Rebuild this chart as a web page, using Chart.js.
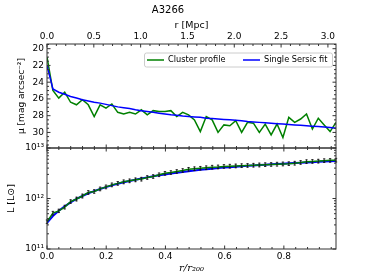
<!DOCTYPE html>
<html>
<head>
<meta charset="utf-8">
<script src="https://cdn.jsdelivr.net/npm/chart.js@4"></script>
<style>
  html, body { margin: 0; padding: 0; background: #fff; }
  canvas { display: block; }
</style>
</head>
<body>
<canvas id="chart" width="374" height="280" style="width:374px;height:280px"></canvas>
<script>
// radius in units of r200
const rNorm = [0.0000, 0.0199, 0.0398, 0.0598, 0.0797, 0.0996, 0.1195, 0.1394, 0.1594, 0.1793,
               0.1992, 0.2191, 0.2390, 0.2590, 0.2789, 0.2988, 0.3187, 0.3386, 0.3586, 0.3785,
               0.3984, 0.4183, 0.4382, 0.4582, 0.4781, 0.4980, 0.5179, 0.5378, 0.5578, 0.5777,
               0.5976, 0.6175, 0.6374, 0.6574, 0.6773, 0.6972, 0.7171, 0.7370, 0.7570, 0.7769,
               0.7968, 0.8167, 0.8366, 0.8566, 0.8765, 0.8964, 0.9163, 0.9362, 0.9562, 0.9761];

// surface brightness, mag arcsec^-2
const muProfile = [21.0, 25.0, 25.9, 25.2, 26.4, 26.7, 26.1, 26.7, 28.1, 26.7,
                   27.1, 26.6, 27.6, 27.8, 27.6, 27.8, 27.3, 27.9, 27.4, 27.5,
                   27.5, 27.4, 28.1, 27.6, 27.9, 28.5, 29.9, 28.1, 28.5, 30.0,
                   29.1, 29.2, 28.6, 30.0, 28.8, 28.9, 30.0, 29.0, 30.3, 29.0,
                   30.6, 28.2, 28.8, 28.4, 27.8, 29.6, 28.3, 29.1, 29.9, 28.8];
const muSersic = [22.0, 24.8, 25.2, 25.45, 25.7, 25.9, 26.1, 26.25, 26.4, 26.5,
                  26.65, 26.8, 26.95, 27.05, 27.15, 27.3, 27.4, 27.5, 27.6, 27.7,
                  27.8, 27.9, 27.95, 28.05, 28.1, 28.15, 28.2, 28.3, 28.35, 28.4,
                  28.45, 28.5, 28.55, 28.6, 28.7, 28.75, 28.8, 28.85, 28.9, 28.95,
                  29.0, 29.05, 29.1, 29.15, 29.2, 29.25, 29.3, 29.35, 29.4, 29.5];

// cumulative luminosity, 10^12 Lsun
const lumProfile = [0.347, 0.513, 0.569, 0.676, 0.871, 0.977, 1.122, 1.318, 1.380, 1.549,
                    1.698, 1.862, 1.995, 2.138, 2.239, 2.344, 2.42, 2.61, 2.73, 2.95,
                    3.16, 3.27, 3.43, 3.59, 3.80, 3.89, 3.98, 4.07, 4.17, 4.22,
                    4.32, 4.37, 4.42, 4.47, 4.52, 4.57, 4.62, 4.68, 4.73, 4.79,
                    4.84, 4.90, 5.01, 5.19, 5.37, 5.43, 5.50, 5.62, 5.69, 5.75];
const lumErr = [0.02, 0.03, 0.03, 0.04, 0.05, 0.06, 0.07, 0.08, 0.08, 0.09,
                0.10, 0.11, 0.12, 0.13, 0.13, 0.14, 0.14, 0.15, 0.16, 0.17,
                0.19, 0.19, 0.20, 0.21, 0.22, 0.23, 0.23, 0.24, 0.25, 0.25,
                0.26, 0.26, 0.26, 0.27, 0.27, 0.27, 0.28, 0.28, 0.28, 0.29,
                0.29, 0.29, 0.30, 0.31, 0.32, 0.32, 0.33, 0.33, 0.34, 0.34];
const lumSersic = [0.33, 0.45, 0.57, 0.70, 0.84, 0.98, 1.12, 1.27, 1.40, 1.54,
                   1.68, 1.82, 1.96, 2.10, 2.23, 2.36, 2.49, 2.62, 2.75, 2.88,
                   3.00, 3.12, 3.24, 3.36, 3.48, 3.59, 3.70, 3.80, 3.90, 4.00,
                   4.09, 4.18, 4.27, 4.36, 4.44, 4.52, 4.60, 4.68, 4.76, 4.83,
                   4.90, 4.97, 5.04, 5.11, 5.18, 5.25, 5.32, 5.38, 5.44, 5.50];

const r200Mpc = 3.162;
const rMax = 0.9761;

const SANS = 'DejaVu Sans';
const tickFont = { family: SANS, size: 9 };
const green = '#008000';
const blue = '#0000ff';

const pts = (ys, k = 1) => rNorm.map((r, i) => ({ x: r, y: ys[i] * k }));
const sup = (n) => String(n).split('').map(d => '⁰¹²³⁴⁵⁶⁷⁸⁹'[+d]).join('');

// frame + inward ticks, matplotlib style
const panelFrame = {
  id: 'panelFrame',
  afterDraw(chart) {
    const { ctx, chartArea: area } = chart;
    const { x, xTop, y, yL } = chart.scales;
    const L = area.left, R = area.right;
    ctx.save();
    ctx.strokeStyle = '#333';
    ctx.lineWidth = 1;
    ctx.beginPath();
    const hTick = (px, edge, dir, len) => { ctx.moveTo(px, edge); ctx.lineTo(px, edge + dir * len); };
    const vTick = (py, len) => {
      ctx.moveTo(L, py); ctx.lineTo(L + len, py);
      ctx.moveTo(R, py); ctx.lineTo(R - len, py);
    };
    for (let k = 0; k * 0.04 <= x.max + 1e-9; k++) {
      const px = x.getPixelForValue(k * 0.04);
      const len = k % 5 === 0 ? 3.5 : 2;
      hTick(px, y.bottom, -1, len);
      hTick(px, yL.top, 1, len);
      hTick(px, yL.bottom, -1, len);
    }
    for (let k = 0; k * 0.1 <= xTop.max + 1e-9; k++) {
      hTick(xTop.getPixelForValue(k * 0.1), y.top, 1, k % 5 === 0 ? 3.5 : 2);
    }
    for (let k = 39; k * 0.5 <= y.max; k++) {
      if (k * 0.5 < y.min) continue;
      vTick(y.getPixelForValue(k * 0.5), k % 4 === 0 ? 3.5 : 2);
    }
    for (let e = 11; e <= 13; e++) {
      for (let m = 1; m <= 9; m++) {
        const v = m * Math.pow(10, e);
        if (v > yL.max * 1.0001) break;
        vTick(yL.getPixelForValue(v), m === 1 ? 3.5 : 2);
      }
    }
    ctx.stroke();
    ctx.strokeRect(L, y.top, R - L, y.bottom - y.top);
    ctx.strokeRect(L, yL.top, R - L, yL.bottom - yL.top);
    ctx.restore();
  }
};

const errorBars = {
  id: 'errorBars',
  afterDatasetsDraw(chart) {
    const { ctx } = chart;
    const { x, yL } = chart.scales;
    ctx.save();
    ctx.strokeStyle = '#111';
    ctx.lineWidth = 0.8;
    ctx.beginPath();
    rNorm.forEach((r, i) => {
      const px = x.getPixelForValue(r);
      const y1 = yL.getPixelForValue((lumProfile[i] - lumErr[i]) * 1e12);
      const y2 = yL.getPixelForValue((lumProfile[i] + lumErr[i]) * 1e12);
      ctx.moveTo(px, y1 + 1); ctx.lineTo(px, y2 - 1);
      ctx.moveTo(px - 1.2, y1 + 0.5); ctx.lineTo(px + 1.2, y1 + 0.5);
      ctx.moveTo(px - 1.2, y2 - 0.5); ctx.lineTo(px + 1.2, y2 - 0.5);
    });
    ctx.stroke();
    ctx.restore();
  }
};

const legendBox = {
  id: 'legendBox',
  afterDraw(chart) {
    const { ctx, chartArea: area } = chart;
    const top = chart.scales.y.top + 8.5;
    const right = area.right - 4;
    const left = right - 188;
    const h = 14;
    ctx.save();
    ctx.fillStyle = 'rgba(255,255,255,0.85)';
    ctx.strokeStyle = '#ccc';
    ctx.lineWidth = 1;
    ctx.beginPath();
    ctx.roundRect(left + 0.5, top + 0.5, right - left, h, 2);
    ctx.fill();
    ctx.stroke();
    const items = [chart.data.datasets[1], chart.data.datasets[0]];
    const xs = [left + 3, left + 99];
    ctx.font = '8.2px ' + SANS;
    ctx.textBaseline = 'middle';
    ctx.fillStyle = '#000';
    items.forEach((ds, i) => {
      const cy = top + h / 2 + 0.5;
      ctx.strokeStyle = ds.borderColor;
      ctx.lineWidth = 1.5;
      ctx.beginPath();
      ctx.moveTo(xs[i], cy); ctx.lineTo(xs[i] + 17, cy);
      ctx.stroke();
      ctx.fillText(ds.label, xs[i] + 21, cy);
    });
    ctx.restore();
  }
};

const noGrid = { display: false, drawTicks: false, tickLength: 0 };

new Chart(document.getElementById('chart'), {
  type: 'line',
  data: {
    datasets: [
      { label: 'Single Sersic fit', data: pts(muSersic), yAxisID: 'y', borderColor: blue, borderWidth: 1.5 },
      { label: 'Cluster profile', data: pts(muProfile), yAxisID: 'y', borderColor: green, borderWidth: 1.5 },
      { label: 'Cluster L', data: pts(lumProfile, 1e12), yAxisID: 'yL', borderColor: green, borderWidth: 1.5 },
      { label: 'Sersic L', data: pts(lumSersic, 1e12), yAxisID: 'yL', borderColor: blue, borderWidth: 2 }
    ]
  },
  options: {
    responsive: false,
    animation: false,
    devicePixelRatio: 1,
    layout: { padding: { left: 0, right: 38, top: 0, bottom: 0 } },
    elements: { point: { radius: 0 }, line: { tension: 0, fill: false } },
    plugins: {
      legend: { display: false },
      tooltip: { enabled: false },
      title: {
        display: true, text: 'A3266', color: '#000',
        font: { family: SANS, size: 10, weight: 'normal' },
        padding: { top: 4, bottom: 2 }
      }
    },
    scales: {
      x: {
        type: 'linear', position: 'bottom', min: 0, max: rMax,
        grid: noGrid, border: { display: false },
        ticks: { stepSize: 0.2, includeBounds: false, color: '#000', font: tickFont, padding: 2,
                 callback: v => v.toFixed(1) },
        title: { display: true, text: 'r/r₂₀₀', color: '#000',
                 font: { family: 'DejaVu Serif', style: 'italic', size: 10 }, padding: { top: 0, bottom: 6 } },
        afterFit: s => { s.height = 31; }
      },
      xTop: {
        type: 'linear', position: 'top', min: 0, max: rMax * r200Mpc,
        grid: noGrid, border: { display: false },
        ticks: { stepSize: 0.5, includeBounds: false, color: '#000', font: tickFont, padding: 2,
                 callback: v => v.toFixed(1) },
        title: { display: true, text: 'r [Mpc]', color: '#000',
                 font: { family: SANS, size: 9.5 }, padding: { top: 2, bottom: 0 } },
        afterFit: s => { s.height = 26; }
      },
      yL: {
        type: 'logarithmic', position: 'left', stack: 'panels', stackWeight: 101,
        min: 1e11, max: 1e13,
        grid: noGrid, border: { display: false },
        ticks: {
          autoSkip: false, color: '#000', font: tickFont, padding: 3,
          callback: v => {
            const e = Math.log10(v);
            return Math.abs(e - Math.round(e)) < 1e-6 ? '10' + sup(Math.round(e)) : '';
          }
        },
        title: { display: true, text: 'L [L⊙]', color: '#000',
                 font: { family: SANS, size: 9.5 }, padding: { top: 6, bottom: 0 } },
        afterFit: s => { s.width = 47; }
      },
      y: {
        type: 'linear', position: 'left', stack: 'panels', stackWeight: 104,
        reverse: true, min: 19.44, max: 31.86,
        grid: noGrid, border: { display: false },
        ticks: { stepSize: 2, includeBounds: false, color: '#000', font: tickFont, padding: 3 },
        title: { display: true, text: 'μ [mag arcsec⁻²]', color: '#000',
                 font: { family: SANS, size: 9 }, padding: { top: 16, bottom: 0 } },
        afterFit: s => { s.width = 47; }
      }
    }
  },
  plugins: [panelFrame, errorBars, legendBox]
});
</script>
</body>
</html>
